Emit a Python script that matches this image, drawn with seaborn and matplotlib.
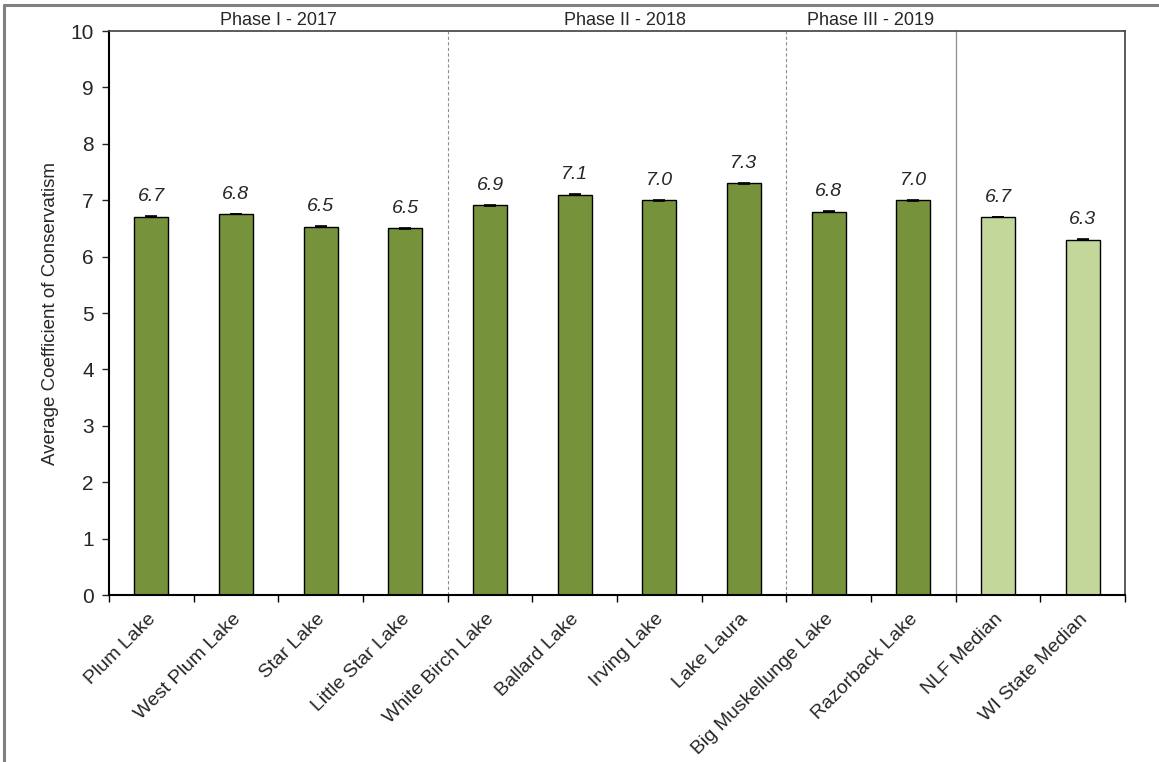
import numpy as np
import pandas as pd
import matplotlib.pyplot as plt
import seaborn as sns
from matplotlib.lines import Line2D
from matplotlib.ticker import FixedLocator
from matplotlib.transforms import ScaledTranslation

# data
lakes = ['Plum Lake', 'West Plum Lake', 'Star Lake', 'Little Star Lake',
         'White Birch Lake', 'Ballard Lake', 'Irving Lake', 'Lake Laura',
         'Big Muskellunge Lake', 'Razorback Lake', 'NLF Median', 'WI State Median']
avg_c = [6.71, 6.76, 6.53, 6.50, 6.91, 7.10, 7.00, 7.30, 6.80, 7.00, 6.70, 6.30]
kind = ['lake'] * 10 + ['median'] * 2
phases = ['Phase I - 2017', 'Phase II - 2018', 'Phase III - 2019']
phase_pos = [1.5, 5.6, 8.5]

sns.set_style("white")
plt.rcParams['font.family'] = ['Liberation Sans', 'DejaVu Sans']

df = pd.DataFrame({'lake': lakes, 'value': avg_c, 'kind': kind})

fig = plt.figure(figsize=(11.59, 7.62), dpi=100)
ax = fig.add_axes([0.094, 0.219, 0.8767, 0.7403])

sns.barplot(data=df, x='lake', y='value', hue='kind',
            palette={'lake': '#76933C', 'median': '#C4D79B'}, saturation=1,
            dodge=False, width=0.4, edgecolor='black', linewidth=1,
            errorbar=None, legend=False, ax=ax)

# tiny error caps on top of each bar
ax.errorbar(np.arange(len(lakes)), avg_c, yerr=0.005, fmt='none',
            ecolor='black', elinewidth=1, capsize=4, capthick=1.2)

for i, v in enumerate(avg_c):
    ax.text(i, v + 0.2, f'{round(v, 1):.1f}', ha='center', va='bottom',
            fontsize=14, style='italic')

ax.set_xlim(-0.5, len(lakes) - 0.5)
ax.set_ylim(0, 10)
ax.set_yticks(range(0, 11))
ax.tick_params(axis='y', labelsize=15, direction='out', length=5, width=1, left=True, pad=6)
ax.set_xlabel('')
ax.set_ylabel('Average Coefficient of Conservatism', fontsize=13.5, labelpad=8)
ax.set_xticks(range(len(lakes)))
ax.set_xticklabels(lakes, rotation=45, ha='right', rotation_mode='anchor', fontsize=14)
ax.tick_params(axis='x', which='major', length=0, pad=11)
shift = ScaledTranslation(-3 / 72, 0, fig.dpi_scale_trans)
for lab in ax.get_xticklabels():
    lab.set_transform(lab.get_transform() + shift)
ax.xaxis.set_minor_locator(FixedLocator(np.arange(-0.5, len(lakes), 1)))
ax.tick_params(axis='x', which='minor', length=5, width=1, bottom=True, color='black')

for s in ['left', 'bottom']:
    ax.spines[s].set_color('black')
    ax.spines[s].set_linewidth(1.5)
for s in ['top', 'right']:
    ax.spines[s].set_color('#404040')
    ax.spines[s].set_linewidth(1.2)

# phase separators
ax.axvline(3.5, color='#909090', linestyle=(0, (3, 2)), linewidth=0.8)
ax.axvline(7.5, color='#909090', linestyle=(0, (3, 2)), linewidth=0.8)
ax.axvline(9.5, color='#909090', linewidth=0.9)

for p, x in zip(phases, phase_pos):
    ax.text(x, 10.1, p, ha='center', va='baseline', fontsize=13, clip_on=False)

# outer chart frame (top and left only)
fig.add_artist(Line2D([0.0035, 1], [0.9935, 0.9935], color='#808080', lw=2.2, transform=fig.transFigure))
fig.add_artist(Line2D([0.0035, 0.0035], [0, 0.9935], color='#808080', lw=2.2, transform=fig.transFigure))

plt.savefig('out.png', dpi=100)
